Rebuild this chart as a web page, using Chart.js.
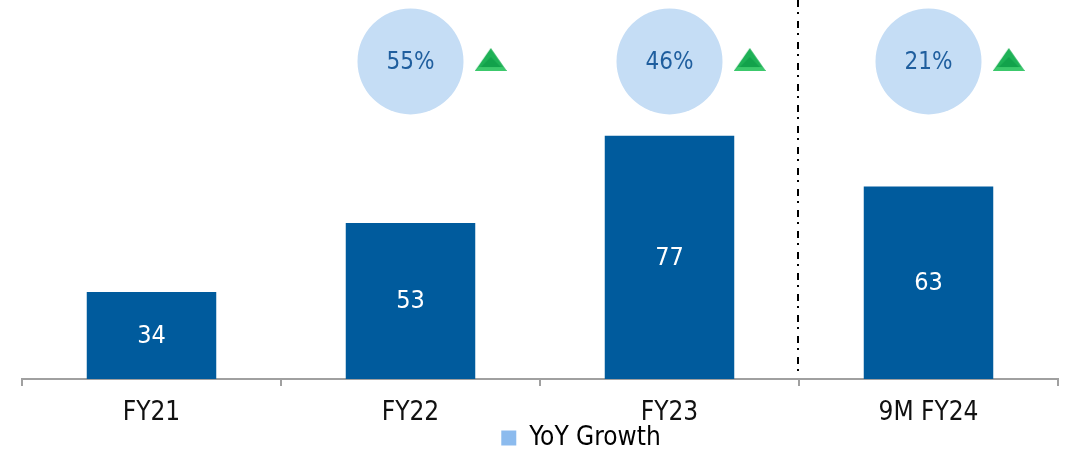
<!DOCTYPE html>
<html><head><meta charset="utf-8">
<script src="https://cdn.jsdelivr.net/npm/chart.js@4/dist/chart.umd.min.js"></script>
<style>html,body{margin:0;padding:0;background:#fff}#wrap{width:1076px;height:456px;position:relative}</style>
</head><body><div id="wrap"><canvas id="c"></canvas></div>
<script>
// ---- data ----
const categories = ['FY21', 'FY22', 'FY23', '9M FY24'];
const revenue = [34, 53, 77, 63];
const yoyGrowth = [null, 55, 46, 21];
const growthUnit = '%';
const legendLabel = 'YoY Growth';

// ---- style constants ----
const FONT = "'DejaVu Sans Condensed', 'DejaVu Sans', sans-serif";
const BAR_COLOR = '#005b9d';
const BUBBLE_COLOR = '#c5ddf5';
const BUBBLE_TEXT = '#1f5e9e';
const LEGEND_COLOR = '#8cbbee';
const AXIS_COLOR = '#a0a0a0';
const Y_MIN = 10, Y_MAX = 110;
const BUBBLE_LEVEL = 97.5;   // vertical level of growth badges (in value units)
const BUBBLE_R = 53;
const TRI_SHIFT = 0.31;      // triangle offset to the right of the badge, in category units

function makeTriangle() {
  const c = document.createElement('canvas');
  c.width = 32; c.height = 23;
  const g = c.getContext('2d');
  g.beginPath(); g.moveTo(16, 0); g.lineTo(32, 23); g.lineTo(0, 23); g.closePath();
  g.fillStyle = '#1eb156'; g.fill();
  g.beginPath(); g.moveTo(4, 19); g.lineTo(28, 19); g.lineTo(32, 23); g.lineTo(0, 23); g.closePath();
  g.fillStyle = '#3cc96c'; g.fill();
  g.beginPath(); g.moveTo(16, 9); g.lineTo(26, 19); g.lineTo(6, 19); g.closePath();
  g.fillStyle = '#12a24b'; g.fill();
  return c;
}

const bubbleData = [];
const triData = [];
yoyGrowth.forEach((g, i) => {
  if (g == null) return;
  bubbleData.push({ x: i, y: BUBBLE_LEVEL, r: BUBBLE_R, g: g });
  triData.push({ x: i + TRI_SHIFT, y: BUBBLE_LEVEL + 0.5 });
});

const labelsPlugin = {
  id: 'labelsPlugin',
  beforeDatasetsDraw(chart) {
    const ctx = chart.ctx, xs = chart.scales.x;
    const xSep = (xs.getPixelForValue(2) + xs.getPixelForValue(3)) / 2;
    ctx.save();
    ctx.strokeStyle = '#000';
    ctx.lineWidth = 2;
    ctx.setLineDash([7, 5, 2, 7]);
    ctx.beginPath();
    ctx.moveTo(Math.round(xSep) - 1, 0);
    ctx.lineTo(Math.round(xSep) - 1, chart.chartArea.bottom - 2);
    ctx.stroke();
    ctx.restore();
  },
  afterDatasetsDraw(chart) {
    const ctx = chart.ctx;
    const bottom = chart.chartArea.bottom;
    ctx.save();
    ctx.textAlign = 'center';
    ctx.textBaseline = 'middle';
    ctx.font = "25px " + FONT;
    ctx.fillStyle = '#ffffff';
    chart.getDatasetMeta(0).data.forEach((el, i) => {
      ctx.fillText(String(revenue[i]), el.x, (el.y + Math.min(el.base, bottom)) / 2 + 1);
    });
    ctx.font = "24px " + FONT;
    ctx.fillStyle = BUBBLE_TEXT;
    chart.getDatasetMeta(1).data.forEach((el, i) => {
      ctx.fillText(bubbleData[i].g + growthUnit, el.x, el.y + 1);
    });
    ctx.restore();
  },
  afterLayout(chart) {
    const lg = chart.legend;
    if (lg) { lg.left += 41; lg.right += 41; lg.top -= 17; lg.bottom -= 17; }
  }
};

new Chart(document.getElementById('c'), {
  type: 'bar',
  data: {
    labels: categories,
    datasets: [
      { label: 'Revenue', data: revenue, backgroundColor: BAR_COLOR, xAxisID: 'x', yAxisID: 'y',
        barPercentage: 1, categoryPercentage: 0.5, grouped: false, order: 2 },
      { type: 'bubble', label: legendLabel, data: bubbleData, backgroundColor: BUBBLE_COLOR,
        borderWidth: 0, xAxisID: 'xl', yAxisID: 'y', clip: false, order: 1 },
      { type: 'scatter', label: 'up', data: triData, pointStyle: makeTriangle(), pointRadius: 12,
        xAxisID: 'xl', yAxisID: 'y', clip: false, order: 0 }
    ]
  },
  options: {
    responsive: true,
    maintainAspectRatio: false,
    animation: false,
    events: [],
    layout: { autoPadding: false, padding: { left: 22, right: 18, top: 16, bottom: -22 } },
    scales: {
      x: {
        type: 'category',
        offset: true,
        grid: { display: true, offset: true, drawOnChartArea: false, drawTicks: true, tickLength: 7,
                color: AXIS_COLOR, lineWidth: 2 },
        border: { display: true, color: AXIS_COLOR, width: 2 },
        ticks: { color: '#111', font: { family: FONT, size: 26, lineHeight: 1 }, padding: 14, maxRotation: 0, autoSkip: false }
      },
      xl: { type: 'linear', display: false, offset: false, min: -0.5, max: 3.5 },
      y: { display: false, min: Y_MIN, max: Y_MAX }
    },
    plugins: {
      tooltip: { enabled: false },
      legend: {
        position: 'bottom',
        onClick: null,
        labels: {
          font: { family: FONT, size: 26 },
          color: '#111',
          boxWidth: 15, boxHeight: 15,
          padding: 2,
          generateLabels: () => [{ text: legendLabel, fillStyle: LEGEND_COLOR, strokeStyle: LEGEND_COLOR,
                                   lineWidth: 0, hidden: false, datasetIndex: 1 }]
        }
      }
    }
  },
  plugins: [labelsPlugin]
});
</script>
</body></html>
